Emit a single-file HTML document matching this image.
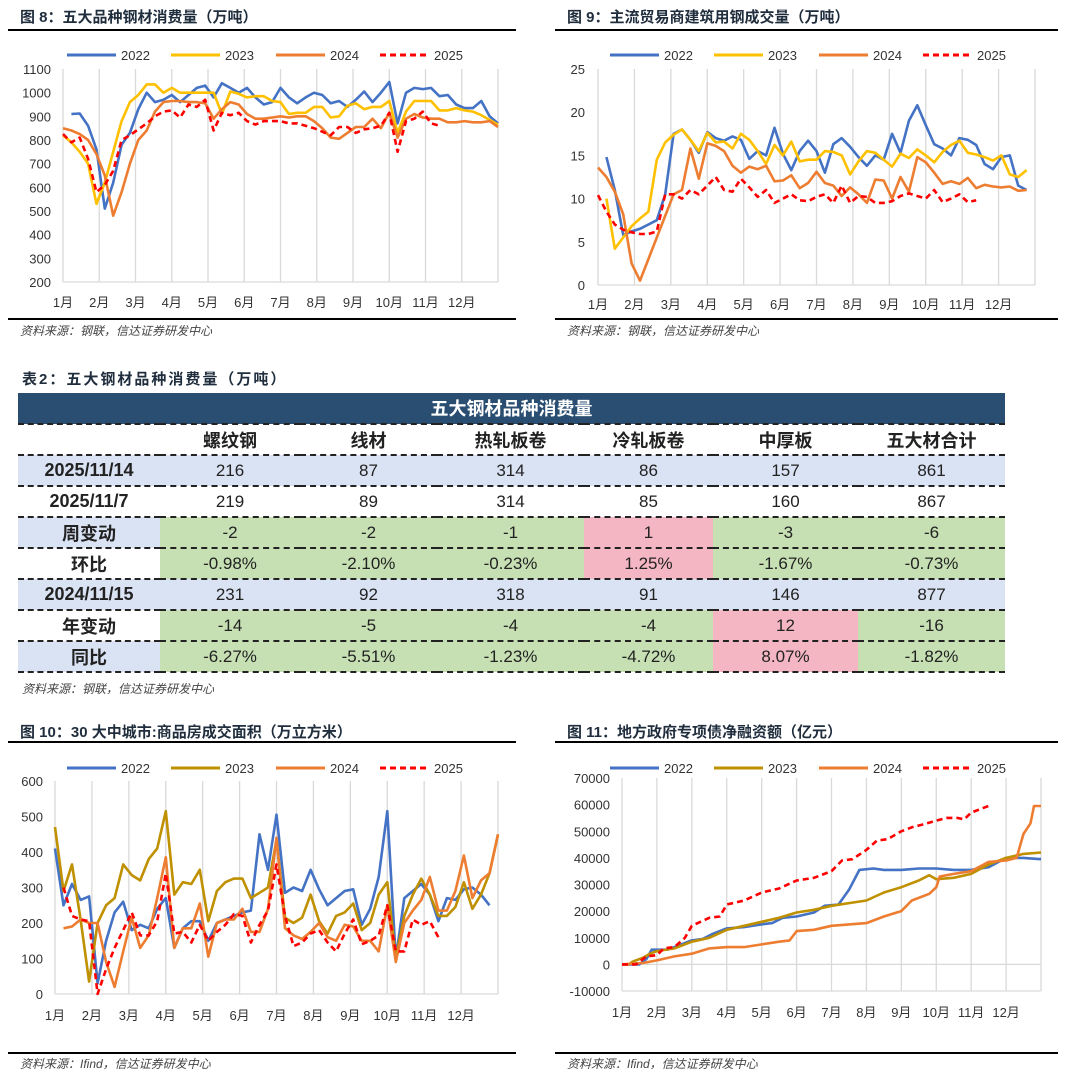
<!DOCTYPE html>
<html><head><meta charset="utf-8">
<style>
body{margin:0;background:#fff;}
#wrap{position:relative;width:1080px;height:1074px;overflow:hidden;font-family:"Liberation Sans","Noto Sans CJK SC",sans-serif;}
svg{position:absolute;left:0;top:0;}
#tbl{position:absolute;left:18px;top:393px;width:987px;border-collapse:collapse;font-family:"Liberation Sans","Noto Sans CJK SC",sans-serif;font-size:17px;color:#222;}
#tbl td{text-align:center;padding:0;border-bottom:2px dashed #222;}
#tbl .hd{background:#2a4e72;color:#fff;font-weight:bold;height:30px;font-size:18px;}
#tbl .b{background:#dae3f3;}
#tbl .g{background:#c6e0b4;}
#tbl .p{background:#f4b6c2;}
#tbl .f{font-weight:bold;font-size:18px;}
#tbl tr.r td{height:29px;}
</style></head><body>
<div id="wrap">
<svg id="chart" width="1080" height="1074"></svg>
<table id="tbl">
<colgroup><col style="width:142px"><col style="width:140px"><col style="width:137px"><col style="width:147px"><col style="width:129px"><col style="width:145px"><col style="width:147px"></colgroup>
<tr><td class="hd" colspan="7">五大钢材品种消费量</td></tr>
<tr class="r"><td></td><td class="f">螺纹钢</td><td class="f">线材</td><td class="f">热轧板卷</td><td class="f">冷轧板卷</td><td class="f">中厚板</td><td class="f">五大材合计</td></tr>
<tr class="r b"><td class="f b">2025/11/14</td><td class="b">216</td><td class="b">87</td><td class="b">314</td><td class="b">86</td><td class="b">157</td><td class="b">861</td></tr>
<tr class="r"><td class="f">2025/11/7</td><td>219</td><td>89</td><td>314</td><td>85</td><td>160</td><td>867</td></tr>
<tr class="r"><td class="f b">周变动</td><td class="g">-2</td><td class="g">-2</td><td class="g">-1</td><td class="p">1</td><td class="g">-3</td><td class="g">-6</td></tr>
<tr class="r"><td class="f">环比</td><td class="g">-0.98%</td><td class="g">-2.10%</td><td class="g">-0.23%</td><td class="p">1.25%</td><td class="g">-1.67%</td><td class="g">-0.73%</td></tr>
<tr class="r"><td class="f b">2024/11/15</td><td class="b">231</td><td class="b">92</td><td class="b">318</td><td class="b">91</td><td class="b">146</td><td class="b">877</td></tr>
<tr class="r"><td class="f">年变动</td><td class="g">-14</td><td class="g">-5</td><td class="g">-4</td><td class="g">-4</td><td class="p">12</td><td class="g">-16</td></tr>
<tr class="r"><td class="f b">同比</td><td class="g">-6.27%</td><td class="g">-5.51%</td><td class="g">-1.23%</td><td class="g">-4.72%</td><td class="p">8.07%</td><td class="g">-1.82%</td></tr>
</table>
</div>
<script>
const months = ["1月","2月","3月","4月","5月","6月","7月","8月","9月","10月","11月","12月"];
const years = ["2022","2023","2024","2025"];
// Chart 8 (weekly, index = week)
const c8y2022 = [null,910,912,860,760,510,620,780,830,930,1000,960,970,990,960,990,1020,1030,980,1040,1020,1000,1020,980,950,960,1020,980,955,980,1000,990,955,965,940,970,1005,960,1000,1045,870,1000,1020,1015,1020,985,990,950,935,935,965,900,870];
const c8y2023 = [820,790,750,700,530,620,750,880,960,990,1035,1035,1000,1020,1000,1000,1000,1000,1000,910,1005,995,980,985,985,965,960,910,915,915,940,940,895,900,945,955,930,940,940,965,830,920,965,965,965,925,925,935,925,920,905,885,865];
const c8y2024 = [850,840,825,800,740,650,480,580,700,800,840,920,960,965,965,960,960,955,890,930,960,950,910,890,890,895,900,895,900,900,880,850,810,805,830,855,855,890,850,915,810,890,910,895,890,890,875,875,880,875,875,880,855];
const c8y2025 = [825,790,810,720,580,610,670,800,820,845,870,900,920,925,895,950,940,970,840,915,905,915,880,865,880,880,880,870,870,860,850,835,820,855,855,830,845,850,860,915,750,880,890,920,870,860];
const c8ticks = [200,300,400,500,600,700,800,900,1000,1100];
// Chart 9
const c9y2022 = [null,14.8,11,5.8,6.2,6.5,7,7.5,10.5,17.5,18,16.8,15.3,17.7,17,16.7,17.2,16.8,14.6,15.5,15,18.2,15.2,13.3,15.5,16.7,15.5,13,16.3,17,16,14.8,13.8,15,14.5,17.5,15.3,19,20.8,18.5,16.3,15.8,15,17,16.8,16.2,14,13.4,14.8,15,11.5,11];
const c9y2023 = [null,10,4.2,5.5,6.8,7.7,8.5,14.5,16.5,17.4,18,16.8,15.5,17.6,16.5,16.6,15.8,17.5,16.8,15.5,14,16.2,15,16.6,14.3,14.5,14.5,15.5,15.4,15,12.8,14.3,15.5,15.3,14.5,13.7,15.2,14.7,15.7,15,14.2,15.4,16.2,16.7,15.3,15.1,14.8,14.4,15,12.8,12.5,13.3];
const c9y2024 = [13.6,12.5,10.8,8.2,2.5,0.5,3,5.5,8,10.5,11,15.8,12.3,16.4,16.1,15.5,13.8,13,13.7,13.4,13.8,12,12.1,12.7,11.2,11.8,13.1,11.8,11.5,10.3,11.3,10.5,9.5,12.2,12.1,10,12.5,10.8,14.8,14.2,13,11.7,12,11.7,12.4,11.2,11.6,11.4,11.3,11.4,10.9,11];
const c9y2025 = [10.4,8.5,7,6.4,6.1,5.9,5.9,6.2,10.5,10.5,10,11,10.5,11.5,12.5,11,10.8,12.3,11.3,10.2,11,9.5,10,10.5,9.8,9.7,10.2,10.5,9.5,11.5,9.5,10.3,10.2,9.5,9.5,9.7,10.3,10.6,10.3,10,11,9.6,10,10.5,9.6,9.8];
const c9ticks = [0,5,10,15,20,25];
// Chart 10
const c10y2022 = [410,250,310,265,275,30,150,230,260,180,195,185,240,270,130,185,205,205,150,200,210,220,230,235,450,350,505,285,300,290,350,295,250,270,290,295,195,240,330,515,100,270,290,310,280,205,270,265,295,300,280,250];
const c10y2023 = [470,290,365,210,35,200,250,270,365,335,320,380,410,515,280,315,310,350,205,290,315,325,325,270,285,300,435,215,200,215,280,205,170,220,230,255,180,200,280,315,100,220,280,325,280,220,220,245,315,240,280,340,450];
const c10y2024 = [null,185,190,210,200,200,90,20,120,215,130,165,270,385,130,185,185,255,105,200,210,210,240,175,175,240,440,185,165,155,175,200,160,150,195,190,150,150,120,250,90,200,235,265,330,235,235,290,390,270,320,340,450];
const c10y2025 = [null,300,220,210,205,0,70,130,180,230,165,165,205,340,170,175,145,195,150,175,195,225,220,145,195,235,365,220,135,145,170,180,145,120,170,210,140,150,165,250,120,120,210,195,205,160];
const c10ticks = [0,100,200,300,400,500,600];
// Chart 11 (month position, value)
const c11m2022 = [0,0.5,0.7,0.85,1.3,1.5,2,2.3,2.6,3,3.5,4,4.3,4.6,5,5.5,5.8,6.2,6.5,6.8,7.2,7.5,8,8.5,9,9.5,10,10.5,11,11.5,12];
const c11v2022 = [0,0,2000,5500,5500,6500,9000,9500,11500,13500,14000,15000,15500,17500,18000,19500,22000,22500,28000,35500,36000,35500,35500,36000,36000,35500,35500,36500,40000,40000,39500];
const c11m2023 = [0,0.2,0.3,0.6,0.8,1,1.5,2,2.5,3,3.5,4,4.5,5,5.5,6,6.5,7,7.5,8,8.5,8.8,9,9.5,10,10.5,11,11.5,12];
const c11v2023 = [0,0,1000,2500,4000,5000,6000,8500,10000,13000,14500,16000,17500,19500,20500,22000,23000,24000,27000,29000,31500,33500,32000,32500,34000,37500,40000,41500,42000];
const c11m2024 = [0,0.6,1,1.5,2,2.5,3,3.5,4,4.5,4.8,5,5.5,6,6.5,7,7.5,8,8.3,8.8,9,9.1,9.5,10,10.5,11,11.3,11.5,11.7,11.8,12];
const c11v2024 = [0,500,1500,3000,4000,6000,6500,6500,7500,8500,9000,12500,13000,14500,15000,15500,18000,20000,24000,26500,29000,33000,34000,35000,38500,39000,40000,49000,53000,59500,59500];
const c11m2025 = [0,0.4,0.7,1,1.2,1.5,1.8,2,2.5,2.8,3,3.5,4,4.5,5,5.5,6,6.3,6.6,7,7.3,7.6,8,8.3,8.6,9,9.3,9.6,9.8,10,10.3,10.6];
const c11v2025 = [0,0,3000,3500,6000,6500,10000,14500,17500,18000,22500,24000,27000,28500,31500,32500,35000,39000,39500,43000,46500,47000,50000,51500,52500,54000,55000,55000,54500,57000,58500,60000];
const c11ticks = [-10000,0,10000,20000,30000,40000,50000,60000,70000];

const NS="http://www.w3.org/2000/svg";
const svg=document.getElementById('chart');
function el(tag,attrs,parent){const e=document.createElementNS(NS,tag);for(const k in attrs)e.setAttribute(k,attrs[k]);(parent||svg).appendChild(e);return e;}
function txt(s,x,y,attrs,parent){const t=el('text',Object.assign({x:x,y:y},attrs),parent);t.textContent=s;return t;}

function frame(name,x0,x1,title,tY,lineY,botY,srcText,srcY){
  const g=el('g',{});
  
  
  const t=txt(title,x0+12,tY,{'font-size':15,'font-weight':'bold',fill:'#1f2d3d'},g);
  
  
  el('line',{x1:x0,x2:x1,y1:lineY,y2:lineY,stroke:'#000','stroke-width':2},g);
  el('line',{x1:x0,x2:x1,y1:botY,y2:botY,stroke:'#000','stroke-width':2},g);
  const s=txt(srcText,x0+12,srcY,{'font-size':12,'font-style':'italic',fill:'#444'},g);
  
  
}

function legend(name,lx,ly,colors){
  const offs=[0,104,209,313];
  years.forEach((yr,i)=>{
    const g=el('g',{});
    
    
    const a={x1:lx+offs[i],x2:lx+offs[i]+49,y1:ly,y2:ly,stroke:colors[i],'stroke-width':3};
    if(i===3)a['stroke-dasharray']='6,4';
    el('line',a,g);
    txt(yr,lx+offs[i]+54,ly+5,{'font-size':13,fill:'#333'},g);
  });
}

function axes(name,px0,px1,pyTop,pyBot,vmin,vmax,ticks,labX,monthY,hgrid){
  const ys=v=>pyBot-(v-vmin)/(vmax-vmin)*(pyBot-pyTop);
  const xs=m=>px0+m/12*(px1-px0);
  const g=el('g',{});
  
  
  for(let m=0;m<=12;m++){el('line',{x1:xs(m),x2:xs(m),y1:pyTop,y2:pyBot,stroke:'#d9d9d9','stroke-width':1.3},g);}
  el('line',{x1:px0,x2:px1,y1:pyBot,y2:pyBot,stroke:'#d9d9d9','stroke-width':1.3},g);
  if(hgrid!==undefined)el('line',{x1:px0,x2:px1,y1:ys(hgrid),y2:ys(hgrid),stroke:'#d9d9d9','stroke-width':1.3},g);
  ticks.forEach(v=>{const t=txt(String(v),labX,ys(v)+5,{'font-size':13,fill:'#333','text-anchor':'end'},g);
    });
  months.forEach((mm,i)=>{const t=txt(mm,xs(i),monthY,{'font-size':13,fill:'#333','text-anchor':'middle'},g);
    });
  return {xs,ys};
}

function series(name,yr,xs,ys,vals,color,dashed,mx){
  let d='';let pen=false;
  vals.forEach((v,i)=>{
    if(v===null||v===undefined){pen=false;return;}
    const x=mx?xs(mx[i]):xs(i/52*12);
    d+=(pen?'L':'M')+x.toFixed(1)+','+ys(v).toFixed(1);pen=true;
  });
  const a={d:d,fill:'none',stroke:color,'stroke-width':2.6,'stroke-linejoin':'round'};
  if(dashed)a['stroke-dasharray']='6,4';
  const p=el('path',a);
  
  
}

const C4=['#4472c4','#ffc000','#ed7d31','#ff0000'];
const C4b=['#4472c4','#bf9000','#ed7d31','#ff0000'];

// Chart 8
frame('chart8',8,516,'图 8：五大品种钢材消费量（万吨）',22,30,319,'资料来源：钢联，信达证券研发中心',335);
legend('chart8',67,55,C4);
let a=axes('chart8',63,498,69,282,200,1100,c8ticks,51,307);
[c8y2022,c8y2023,c8y2024,c8y2025].forEach((s,i)=>series('chart8',years[i],a.xs,a.ys,s,C4[i],i===3));

// Chart 9
frame('chart9',555,1058,'图 9：主流贸易商建筑用钢成交量（万吨）',22,30,319,'资料来源：钢联，信达证券研发中心',335);
legend('chart9',610,55,C4);
a=axes('chart9',598,1035,69,285,0,25,c9ticks,585,309);
[c9y2022,c9y2023,c9y2024,c9y2025].forEach((s,i)=>series('chart9',years[i],a.xs,a.ys,s,C4[i],i===3));

// Table title
const tt=txt('表2：五大钢材品种消费量（万吨）',22,384,{'font-size':15,'font-weight':'bold',fill:'#1f2d3d','letter-spacing':'2'});


const ts=txt('资料来源：钢联，信达证券研发中心',22,693,{'font-size':12,'font-style':'italic',fill:'#444'});



// Chart 10
frame('chart10',8,516,'图 10：30 大中城市:商品房成交面积（万立方米）',737,742,1053,'资料来源：Ifind，信达证券研发中心',1068);
legend('chart10',67,768,C4b);
a=axes('chart10',55,498,781,994,0,600,c10ticks,43,1020);
[c10y2022,c10y2023,c10y2024,c10y2025].forEach((s,i)=>series('chart10',years[i],a.xs,a.ys,s,C4b[i],i===3));

// Chart 11
frame('chart11',555,1058,'图 11：地方政府专项债净融资额（亿元）',737,742,1053,'资料来源：Ifind，信达证券研发中心',1068);
legend('chart11',610,768,C4b);
a=axes('chart11',622,1041,778,991,-10000,70000,c11ticks,610,1017,0);
series('chart11','2022',a.xs,a.ys,c11v2022,C4b[0],false,c11m2022);
series('chart11','2023',a.xs,a.ys,c11v2023,C4b[1],false,c11m2023);
series('chart11','2024',a.xs,a.ys,c11v2024,C4b[2],false,c11m2024);
series('chart11','2025',a.xs,a.ys,c11v2025,C4b[3],true,c11m2025);
</script>
</body></html>
